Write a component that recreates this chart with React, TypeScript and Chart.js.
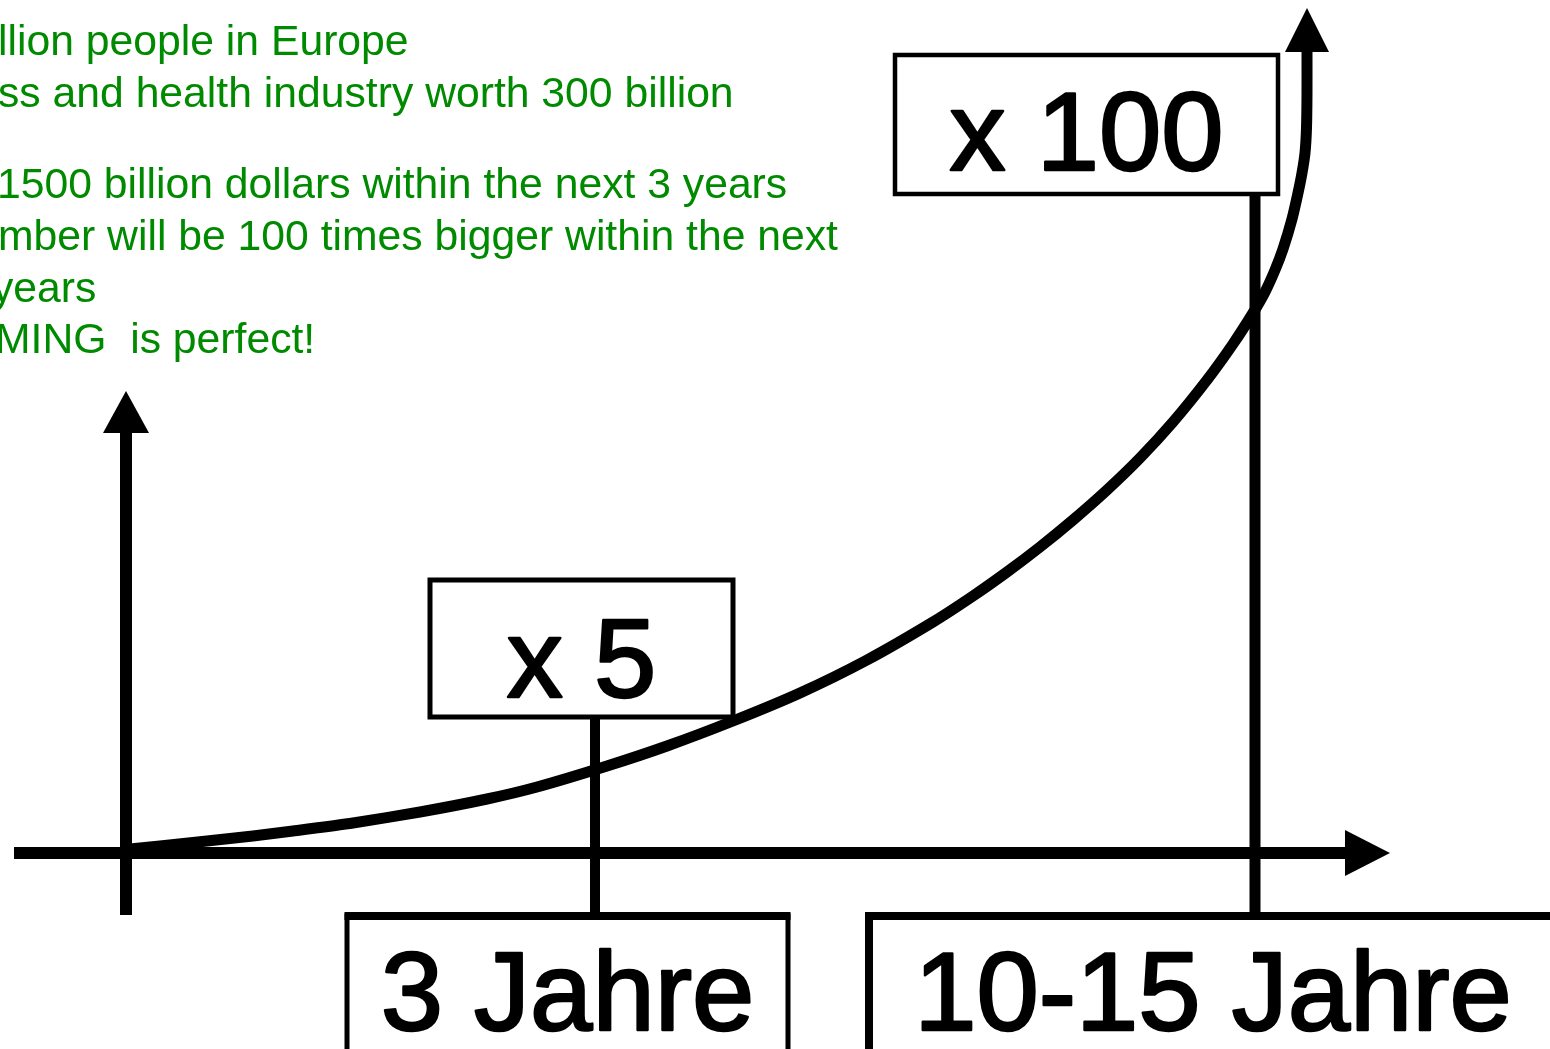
import React, { useEffect, useRef } from "react";
import { Chart, registerables } from "chart.js";

Chart.register(...registerables);

// ---- data ----
// growth curve (x: time position, y: growth level) relative to the origin of the diagram
const CURVE_X = [5, 35, 82, 128, 168, 228, 295, 362, 412, 482, 542, 608, 675, 742, 808, 848, 882, 915, 948, 982, 1015, 1048, 1082, 1108, 1128, 1140, 1150, 1158, 1167, 1173, 1177, 1180, 1181.5, 1182, 1182];
const CURVE_Y = [4, 7, 12, 17, 22, 30, 41, 54, 66, 87, 107, 132, 160, 193, 231, 257, 281, 306, 333, 363, 395, 431, 473, 509, 540, 561, 583, 604, 634, 660, 680, 700, 725, 760, 801];

// milestones on the time axis
const MILESTONE_X = [470, 1130];
const MILESTONE_FACTORS = ["x 5", "x 100"];
const MILESTONE_PERIODS = ["3 Jahre", "10-15 Jahre"];

// green notes (cropped at the left edge in the original)
const NOTES = [
  "llion people in Europe",
  "ss and health industry worth 300 billion",
  "1500 billion dollars within the next 3 years",
  "mber will be 100 times bigger within the next",
  "years",
  "MING  is perfect!",
];

// ---- layout (value units of the chart scales; origin at the axes crossing) ----
const X_MIN = -125;
const X_MAX = 1425;
const Y_MIN = -196;
const Y_MAX = 853;

const FONT = "'Liberation Sans', Arial, sans-serif";
const GREEN = "#008a00";

type Box = { l: number; r: number; t: number; b: number; w: number; tw?: number };
const FACTOR_BOXES: Box[] = [
  { l: 305, r: 608, t: 273, b: 136, w: 5 },
  { l: 770, r: 1153, t: 798, b: 659, w: 4.5 },
];
const FACTOR_BASELINE = [156, 683];
const PERIOD_BOXES: Box[] = [
  { l: 222, r: 663, t: -63, b: -260, w: 5, tw: 8 },
  { l: 744, r: 1432, t: -63, b: -260, w: 8, tw: 8 },
];
const PERIOD_BASELINE = -177;
const NOTE_X = [-2, -2, -3, -2, -8, -5];
const NOTE_BASELINE = [55, 107, 198, 250, 302, 353];

const diagramPlugin = {
  id: "diagram",
  afterDatasetsDraw(chart: any) {
    const { ctx, scales } = chart;
    const xs = scales.x;
    const ys = scales.y;
    const px = (v: number) => xs.getPixelForValue(v);
    const py = (v: number) => ys.getPixelForValue(v);
    ctx.save();
    ctx.fillStyle = "#000";
    ctx.strokeStyle = "#000";
    ctx.lineJoin = "miter";

    const tri = (a: number[], b: number[], c: number[]) => {
      ctx.beginPath();
      ctx.moveTo(a[0], a[1]);
      ctx.lineTo(b[0], b[1]);
      ctx.lineTo(c[0], c[1]);
      ctx.closePath();
      ctx.fill();
    };
    // x axis arrow
    tri([px(1265), py(0)], [px(1220), py(0) - 23], [px(1220), py(0) + 23]);
    // y axis arrow
    tri([px(1), py(462)], [px(1) - 23, py(420)], [px(1) + 23, py(420)]);
    // curve arrow
    const last = CURVE_X.length - 1;
    tri([px(CURVE_X[last]), py(845)], [px(CURVE_X[last]) - 22, py(CURVE_Y[last])], [px(CURVE_X[last]) + 22, py(CURVE_Y[last])]);

    // boxes
    const drawBox = (bx: Box) => {
      const l = px(bx.l), r = px(bx.r), t = py(bx.t), b = py(bx.b);
      ctx.lineWidth = bx.w;
      ctx.strokeRect(l, t, r - l, b - t);
      if (bx.tw && bx.tw !== bx.w) {
        ctx.lineWidth = bx.tw;
        ctx.beginPath();
        ctx.moveTo(l - bx.w / 2, t);
        ctx.lineTo(r + bx.w / 2, t);
        ctx.stroke();
      }
    };
    FACTOR_BOXES.forEach(drawBox);
    PERIOD_BOXES.forEach(drawBox);

    // box labels
    ctx.font = `112px ${FONT}`;
    ctx.textAlign = "center";
    ctx.textBaseline = "alphabetic";
    ctx.lineWidth = 2.5;
    ctx.lineJoin = "round";
    MILESTONE_FACTORS.forEach((txt, i) => {
      const bx = FACTOR_BOXES[i];
      const cx = (px(bx.l) + px(bx.r)) / 2;
      ctx.fillText(txt, cx, py(FACTOR_BASELINE[i]));
      ctx.strokeText(txt, cx, py(FACTOR_BASELINE[i]));
    });
    MILESTONE_PERIODS.forEach((txt, i) => {
      const bx = PERIOD_BOXES[i];
      const cx = (px(bx.l) + px(bx.r)) / 2;
      ctx.fillText(txt, cx, py(PERIOD_BASELINE));
      ctx.strokeText(txt, cx, py(PERIOD_BASELINE));
    });

    // notes
    ctx.font = `42.7px ${FONT}`;
    ctx.textAlign = "left";
    ctx.fillStyle = GREEN;
    NOTES.forEach((t, i) => {
      ctx.fillText(t, NOTE_X[i], NOTE_BASELINE[i]);
    });
    ctx.restore();
  },
};

export default function App() {
  const ref = useRef<HTMLCanvasElement | null>(null);
  useEffect(() => {
    document.body.style.margin = "0";
    const canvas = ref.current;
    if (!canvas) return;
    const line = (pts: { x: number; y: number }[], w: number) => ({
      data: pts,
      borderColor: "#000",
      borderWidth: w,
      pointRadius: 0,
      tension: 0,
      borderCapStyle: "butt",
      fill: false,
    });
    const chart = new Chart(canvas, {
      type: "line",
      data: {
        datasets: [
          {
            data: CURVE_X.map((x, i) => ({ x, y: CURVE_Y[i] })),
            borderColor: "#000",
            borderWidth: 11,
            pointRadius: 0,
            tension: 0.2,
            borderCapStyle: "butt",
            borderJoinStyle: "round",
            fill: false,
          } as any,
          line([{ x: -111, y: 0 }, { x: 1222, y: 0 }], 12) as any,
          line([{ x: 1, y: -62 }, { x: 1, y: 422 }], 12) as any,
          ...MILESTONE_X.map((mx, i) =>
            line([{ x: mx, y: FACTOR_BOXES[i].b }, { x: mx, y: PERIOD_BOXES[0].t }], i === 0 ? 10 : 11) as any
          ),
        ],
      },
      options: {
        animation: false,
        responsive: false,
        devicePixelRatio: 1,
        layout: { padding: 0 },
        scales: {
          x: { type: "linear", display: false, min: X_MIN, max: X_MAX },
          y: { type: "linear", display: false, min: Y_MIN, max: Y_MAX },
        },
        plugins: { legend: { display: false }, tooltip: { enabled: false } },
        datasets: { line: { clip: false } as any },
      },
      plugins: [diagramPlugin],
    });
    return () => chart.destroy();
  }, []);
  return (
    <div style={{ position: "absolute", left: 0, top: 0, width: 1550, height: 1049, background: "#fff" }}>
      <canvas ref={ref} width={1550} height={1049} />
    </div>
  );
}
